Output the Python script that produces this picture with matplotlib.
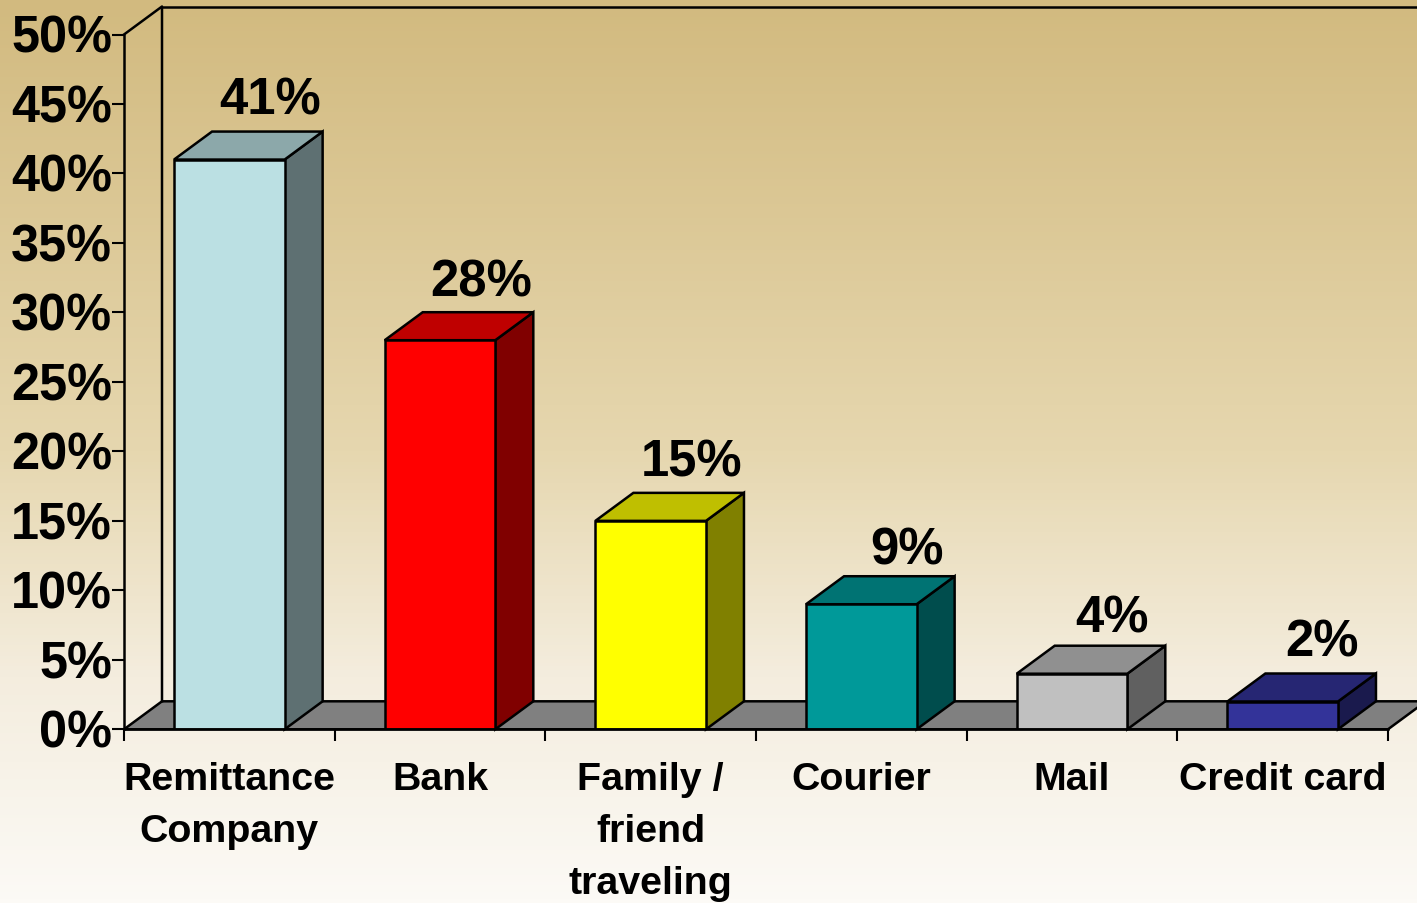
import numpy as np
import matplotlib
matplotlib.use('Agg')
import matplotlib.pyplot as plt
from matplotlib.transforms import ScaledTranslation

plt.rcParams['font.family'] = ['Liberation Sans', 'DejaVu Sans']
plt.rcParams['font.weight'] = 'bold'

# данные
categories = ['Remittance\nCompany', 'Bank', 'Family /\nfriend\ntraveling', 'Courier', 'Mail', 'Credit card']
values = [41, 28, 15, 9, 4, 2]
labels = ['41%', '28%', '15%', '9%', '4%', '2%']
yticks = [0, 5, 10, 15, 20, 25, 30, 35, 40, 45, 50]

# цвета граней
front_colors = ['#BBE0E3', '#FF0000', '#FFFF00', '#009999', '#C0C0C0', '#333399']
side_colors = ['#5E7072', '#800000', '#808000', '#004D4D', '#606060', '#1A1A4D']
top_colors = ['#8CA8AA', '#BF0000', '#BFBF00', '#007373', '#909090', '#262673']

W, H = 1417, 904
fig = plt.figure(figsize=(W / 100, H / 100), dpi=100)

# фон - вертикальный градиент
bg = fig.add_axes([0, 0, 1, 1], zorder=0)
stops = [0, 0.5, 0.75, 1]
rgb = [[210, 186, 127], [230, 215, 175], [244, 237, 222], [252, 250, 246]]
t = np.linspace(0, 1, 256)
grad = np.stack([np.interp(t, stops, [c[i] for c in rgb]) for i in range(3)], axis=1)
bg.imshow(grad[:, None, :] / 255, aspect='auto', extent=[0, 1, 0, 1])
bg.axis('off')

# плоскость передней стороны графика
left, right, top, bottom = 124, 1388, 35.5, 730.3
ax = fig.add_axes([left / W, 1 - bottom / H, (right - left) / W, (bottom - top) / H], zorder=1)
ax.patch.set_visible(False)
ax.set_xlim(0, 6)
ax.set_ylim(0, 50)

# глубина 3D в единицах данных
dx = 38 / ((right - left) / 6)
dy = 28 / ((bottom - top) / 50)
bar_w = 0.525
lw = 1.8

x = np.arange(6) + 0.5

# сдвиг подписей над столбцами, в пунктах
label_dx = [1.7, 2.4, 2.4, 5.3, 1.7, 1]
label_dy = [5.1, 4.3, 4.3, 1.5, 2.2, 5.1]

# пол и задняя стенка
ax.fill([0, 6, 6 + dx, dx], [0, 0, dy, dy], facecolor='#808080', edgecolor='black',
        linewidth=lw, clip_on=False, zorder=1)
ax.plot([0, dx, dx], [50, 50 + dy, dy], color='black', linewidth=lw, clip_on=False, zorder=1)
ax.plot([dx, 6 + dx], [50 + dy, 50 + dy], color='black', linewidth=lw, clip_on=False, zorder=1)

# столбцы
for i in range(6):
    x0 = x[i] - bar_w / 2
    x1 = x[i] + bar_w / 2
    v = values[i]
    ax.fill([x1, x1 + dx, x1 + dx, x1], [0, dy, v + dy, v], facecolor=side_colors[i],
            edgecolor='black', linewidth=lw, clip_on=False, zorder=3)
    ax.fill([x0, x1, x1 + dx, x0 + dx], [v, v, v + dy, v + dy], facecolor=top_colors[i],
            edgecolor='black', linewidth=lw, clip_on=False, zorder=3)
    ax.bar(x[i], v, bar_w, color=front_colors[i], edgecolor='black', linewidth=lw, zorder=3)
    ax.annotate(labels[i], (x[i] + dx, v + dy), xytext=(label_dx[i], label_dy[i]),
                textcoords='offset points', ha='center', va='bottom', fontsize=36.6,
                fontweight='bold', color='black')

# оси
for s in ['top', 'right']:
    ax.spines[s].set_visible(False)
for s in ['left', 'bottom']:
    ax.spines[s].set_linewidth(lw)
    ax.spines[s].set_zorder(4)

ax.set_yticks(yticks)
ax.set_yticklabels([str(v) + '%' for v in yticks], fontsize=36.4, fontweight='bold')
ax.tick_params(axis='y', length=8.6, width=1.5, pad=0)
# подписи Y чуть выше засечек
up = ScaledTranslation(0, 1.2 / 72, fig.dpi_scale_trans)
for lab in ax.get_yticklabels():
    lab.set_transform(lab.get_transform() + up)

ax.set_xticks(range(7))
ax.set_xticklabels([])
ax.tick_params(axis='x', which='major', length=8.6, width=1.5)
ax.set_xticks(x, categories, minor=True, fontsize=28.4, fontweight='bold', linespacing=1.56)
ax.tick_params(axis='x', which='minor', length=0, pad=23)

fig.savefig('out.png', dpi=100)
